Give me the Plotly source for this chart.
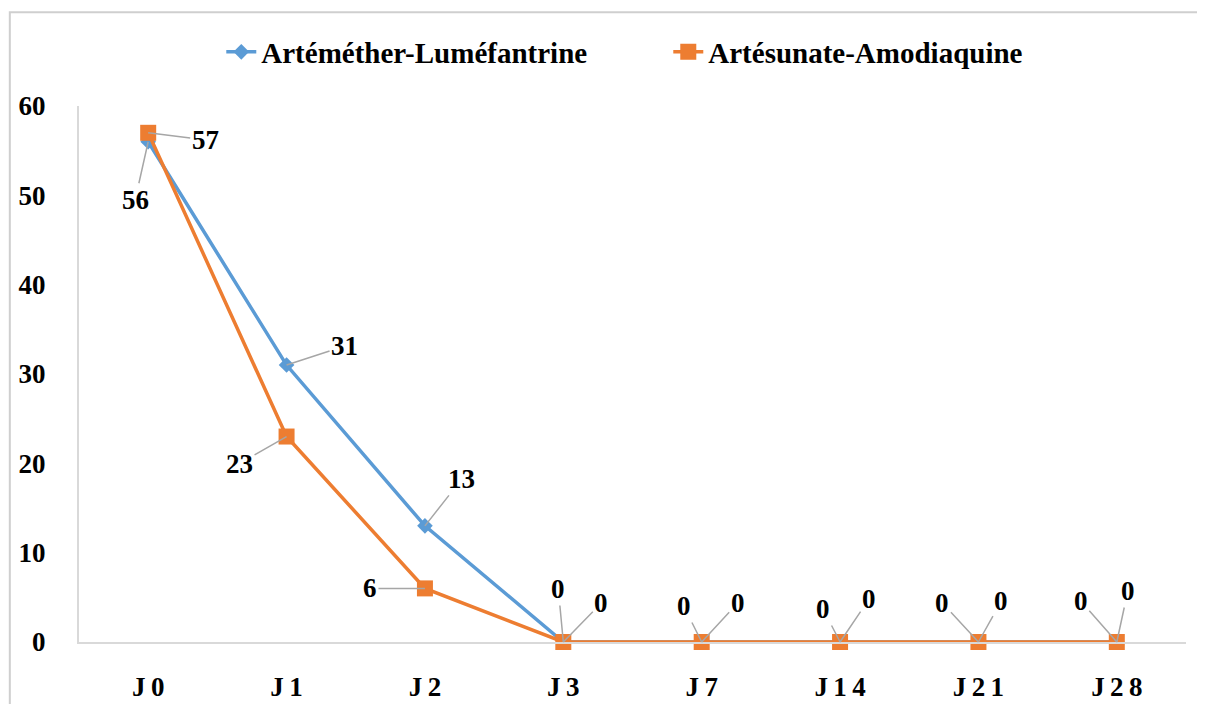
import plotly.graph_objects as go

days = ["J0", "J1", "J2", "J3", "J7", "J14", "J21", "J28"]
day_labels = ["J\u20090", "J\u20091", "J\u20092", "J\u20093", "J\u20097", "J\u20091\u20094", "J\u20092\u20091", "J\u20092\u20098"]
artemether = [56, 31, 13, 0, 0, 0, 0, 0]
artesunate = [57, 23, 6, 0, 0, 0, 0, 0]
y_ticks = [0, 10, 20, 30, 40, 50, 60]

# label offsets (pixels) for the data labels, roughly where Excel put them
blue_offsets = [(-13, 58), (58, -19), (37, -47), (-5, -53), (-18, -36), (-17, -33), (-36, -39), (-36, -41)]
orange_offsets = [(57, 7), (-47, 27), (-55, 0), (38, -39), (36, -39), (29, -43), (23, -41), (11, -51)]

BLUE = "#5b9bd5"
ORANGE = "#ed7d31"
FONT = "Liberation Serif, Times New Roman, serif"

fig = go.Figure()
fig.add_trace(
    go.Scatter(
        x=days,
        y=artemether,
        mode="lines+markers",
        name="Artéméther-Luméfantrine",
        line={"color": BLUE, "width": 3.5},
        marker={"symbol": "diamond", "size": 12, "color": BLUE},
        cliponaxis=False,
    )
)
fig.add_trace(
    go.Scatter(
        x=days,
        y=artesunate,
        mode="lines+markers",
        name="Artésunate-Amodiaquine",
        line={"color": ORANGE, "width": 3.5},
        marker={"symbol": "square", "size": 16, "color": ORANGE},
        cliponaxis=False,
    )
)

annotations = []
for values, offsets in ((artemether, blue_offsets), (artesunate, orange_offsets)):
    for day, value, (ax, ay) in zip(days, values, offsets):
        annotations.append(
            {
                "x": day,
                "y": value,
                "text": str(value),
                "showarrow": True,
                "arrowhead": 0,
                "arrowwidth": 1.5,
                "arrowcolor": "#a6a6a6",
                "ax": ax,
                "ay": ay,
                "font": {"family": FONT, "size": 27, "color": "#000000", "weight": "bold"},
            }
        )

# the page body adds an 8px offset, margins below account for it
fig.update_layout(
    width=1205,
    height=704,
    margin={"l": 71, "r": 27, "t": 98, "b": 70, "autoexpand": False},
    paper_bgcolor="white",
    plot_bgcolor="white",
    font={"family": FONT, "size": 27, "color": "#000000", "weight": "bold"},
    showlegend=True,
    legend={
        "orientation": "h",
        "xref": "container",
        "yref": "container",
        "x": 0.177,
        "xanchor": "left",
        "y": 0.9375,
        "yanchor": "middle",
        "font": {"family": FONT, "size": 29, "weight": "bold"},
        "entrywidth": 402,
        "entrywidthmode": "pixels",
        "bgcolor": "rgba(0,0,0,0)",
    },
    xaxis={
        "type": "category",
        "categoryorder": "array",
        "categoryarray": days,
        "tickvals": days,
        "ticktext": day_labels,
        "showgrid": False,
        "showline": True,
        "linecolor": "#d9d9d9",
        "linewidth": 2,
        "ticks": "",
        "ticklabelstandoff": 20,
        "tickfont": {"family": FONT, "size": 27, "weight": "bold"},
        "range": [-0.5, len(days) - 0.5],
        "zeroline": False,
        "automargin": False,
    },
    yaxis={
        "range": [0, 60],
        "tickvals": y_ticks,
        "showgrid": False,
        "showline": True,
        "linecolor": "#d9d9d9",
        "linewidth": 2,
        "ticks": "",
        "ticklabelstandoff": 26,
        "tickfont": {"family": FONT, "size": 27, "weight": "bold"},
        "zeroline": False,
        "automargin": False,
    },
    annotations=annotations,
    shapes=[
        {
            "type": "rect",
            "xref": "paper",
            "yref": "paper",
            "x0": -0.0625,
            "x1": 1.2,
            "y0": -0.2,
            "y1": 1.175,
            "line": {"color": "#cfcfcf", "width": 2},
            "layer": "below",
        }
    ],
)

fig.write_html("out.html")
